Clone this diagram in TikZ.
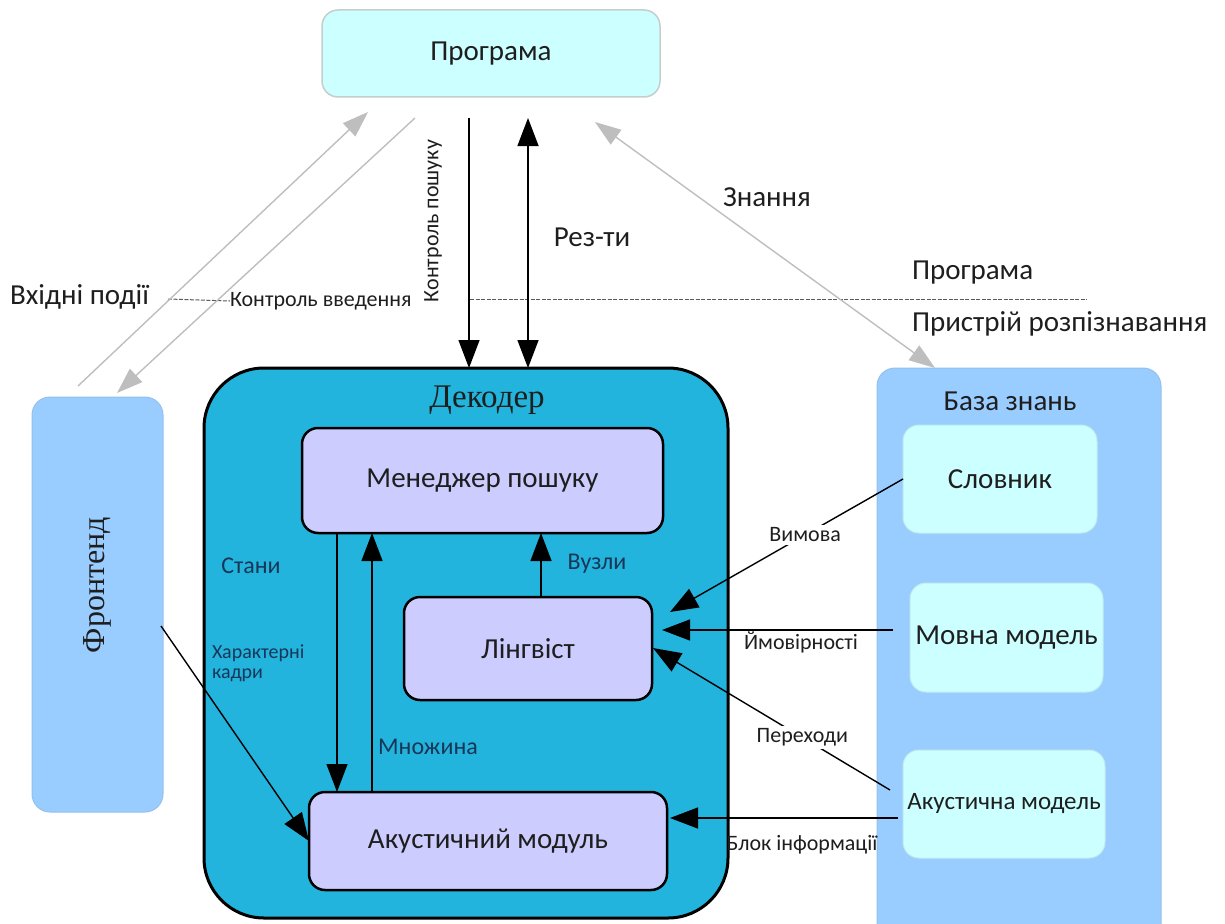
\documentclass[tikz,border=0pt]{standalone}
\usepackage{fontspec}
\setmainfont{Carlito}
\newfontfamily\serifcyr{Liberation Serif}
\usetikzlibrary{arrows.meta,calc}

\definecolor{progfill}{RGB}{204,255,255}
\definecolor{progline}{RGB}{196,206,206}
\definecolor{decfill}{RGB}{34,180,220}
\definecolor{boxfill}{RGB}{204,204,255}
\definecolor{panelfill}{RGB}{153,204,255}
\definecolor{greyarrow}{RGB}{190,190,190}
\definecolor{inktext}{RGB}{30,30,30}
\definecolor{deeplabel}{RGB}{24,54,88}

\newcommand\fsz[1]{\fontsize{#1}{#1}\selectfont}

\begin{document}
\begin{tikzpicture}[x=1pt,y=-1pt,
  every node/.style={inner sep=0pt, outer sep=0pt, text=inktext},
  progbox/.style={draw=progline, line width=1.5pt, fill=progfill, rounded corners=16pt},
  decbox/.style={draw=black, line width=3pt, fill=decfill, rounded corners=60pt},
  innerbox/.style={draw=black, line width=2.5pt, fill=boxfill, rounded corners=16pt, font=\fsz{29}},
  panel/.style={fill=panelfill, draw=panelfill!85!gray, line width=1pt, rounded corners=18pt},
  kbbox/.style={fill=progfill, draw=progfill!85!gray, line width=1pt, rounded corners=16pt, font=\fsz{29}},
  greyflow/.style={draw=greyarrow, line width=1.4pt, -{Triangle[length=26pt,width=18pt,fill=greyarrow]}},
  flow/.style={draw=black, line width=1.4pt, -{Triangle[length=28pt,width=21pt]}},
  biflow/.style={draw=black, line width=1.4pt, {Triangle[length=28pt,width=21pt]}-{Triangle[length=28pt,width=21pt]}},
  bigtext/.style={font=\fsz{29}},
  smalltext/.style={font=\fsz{22}},
  decnote/.style={font=\fsz{24}, text=deeplabel},
  divider/.style={draw=gray!70!black, line width=1pt, dash pattern=on 4pt off 1.5pt}
]
\clip (0,0) rectangle (1225,923);

% ---- boxes ----
\node[progbox, minimum width=338pt, minimum height=87pt, font=\fsz{29}] (prog) at (491,53.5) {Програма};

\node[panel, minimum width=131pt, minimum height=415pt] (front) at (97.5,604.5) {};
\node[rotate=90, font=\serifcyr\fsz{32}] at (97,585) {Фронтенд};

\node[decbox, minimum width=524pt, minimum height=550pt] (dec) at (466,643) {};
\node[font=\serifcyr\fsz{33}, anchor=north] at (487,386) {Декодер};

\node[innerbox, minimum width=361pt, minimum height=105pt] (mgr) at (482.5,480.5) {Менеджер пошуку};
\node[innerbox, minimum width=248pt, minimum height=103pt] (ling) at (528,648.5) {Лінгвіст};
\node[innerbox, minimum width=358pt, minimum height=98pt] (acm) at (488,841) {Акустичний модуль};

\node[panel, minimum width=284pt, minimum height=580pt] (kb) at (1019,658) {};
\node[bigtext, anchor=north] at (1010,392) {База знань};
\node[kbbox, minimum width=194pt, minimum height=108pt] (dict) at (1000,479) {Словник};
\node[kbbox, minimum width=193pt, minimum height=109pt] (lm) at (1006.5,637.5) {Мовна модель};
\node[kbbox, minimum width=202pt, minimum height=108pt, font=\fsz{25}] (am) at (1004,804) {Акустична модель};

% ---- boundary between the application and the recogniser ----
\node[smalltext, anchor=west] (inctl) at (230,301) {Контроль введення};
\coordinate (divA) at (168,299);
\coordinate (divB) at (470,299);
\coordinate (divC) at (1087,299);
\draw[divider] (divA) -- (inctl.west);
\draw[divider] (divB) -- (divC);
\node[bigtext, anchor=west] at (10,297) {Вхідні події};
\node[bigtext, anchor=west] at (912,273) {Програма};
\node[bigtext, anchor=west] at (912,324) {Пристрій розпізнавання};

% ---- grey links to the application ----
\coordinate (feOut) at (78,386);
\coordinate (feIn) at (117,393);
\coordinate (progInL) at (368,112);
\coordinate (progOutL) at (415,118);
\coordinate (progKR) at (595,122);
\coordinate (kbTop) at (935,368);
\draw[greyflow] (feOut) -- (progInL);
\draw[greyflow] (progOutL) -- (feIn);
\draw[greyflow, {Triangle[length=26pt,width=18pt,fill=greyarrow]}-{Triangle[length=26pt,width=18pt,fill=greyarrow]}] (progKR) -- (kbTop);
\node[bigtext] at (767,197) {Знання};

% ---- search control and results ----
\coordinate (ctlTop) at (469,118);
\coordinate (resTop) at (528,118);
\draw[flow] (ctlTop) -- (ctlTop |- dec.north);
\draw[biflow] (resTop) -- (resTop |- dec.north);
\node[smalltext, rotate=90] at (433,221) {Контроль пошуку};
\node[bigtext] at (592,237) {Рез-ти};

% ---- links inside the decoder ----
\coordinate (colA) at (337,0);
\coordinate (colB) at (372,0);
\coordinate (colC) at (541,0);
\draw[flow] (colA |- mgr.south) -- (colA |- acm.north);
\draw[flow] (colB |- acm.north) -- (colB |- mgr.south);
\draw[flow] (colC |- ling.north) -- (colC |- mgr.south);
\node[decnote] at (251,566) {Стани};
\node[decnote] at (428,747) {Множина};
\node[decnote] at (597,564) {Вузли};

% ---- feature frames from the front end ----
\coordinate (feOutR) at (161,626);
\draw[flow] (feOutR) -- (acm.west);
\node[font=\fsz{20}, text=deeplabel, align=left, anchor=north west] at (212,645) {Характерні\\кадри};

% ---- knowledge base feeds ----
\coordinate (lingInA) at (670,612);
\coordinate (lingInB) at (662,630);
\coordinate (lingInC) at (653,648);
\coordinate (acmIn) at (670,818);
\coordinate (lmOut) at (893,630);
\coordinate (amOutA) at (890,790);
\coordinate (amOutB) at (898,818);
\draw[flow] (dict.west) -- node[smalltext, fill=white, inner sep=3pt, pos=0.42] {Вимова} (lingInA);
\draw[flow] (lmOut) -- (lingInB);
\node[smalltext] at (801,642) {Ймовірності};
\draw[flow] (amOutA) -- node[smalltext, fill=white, inner sep=3pt, pos=0.37] {Переходи} (lingInC);
\draw[flow] (amOutB) -- (acmIn);
\node[smalltext] at (802,845) {Блок інформації};
\end{tikzpicture}
\end{document}
